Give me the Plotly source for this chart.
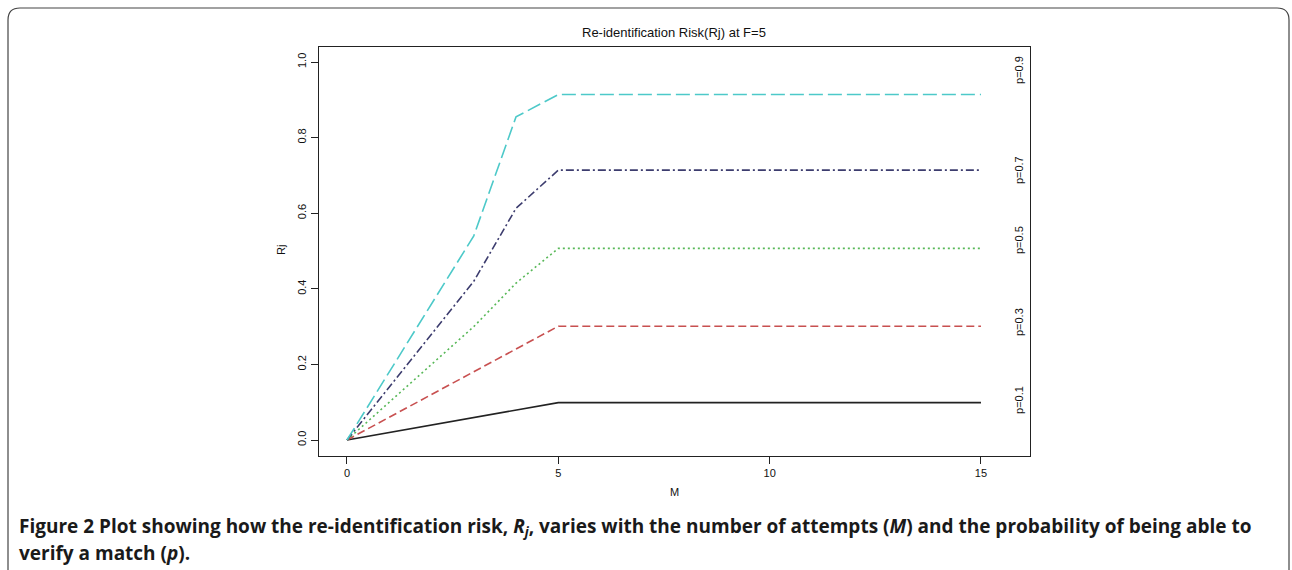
import plotly.graph_objects as go

# Data
M_vals = [0, 1, 2, 3, 4, 5, 15]
series_names = ["p=0.1", "p=0.3", "p=0.5", "p=0.7", "p=0.9"]
r_p01 = [0.0, 0.02, 0.04, 0.06, 0.08, 0.099, 0.099]
r_p03 = [0.0, 0.06, 0.12, 0.18, 0.24, 0.301, 0.301]
r_p05 = [0.0, 0.10, 0.20, 0.30, 0.415, 0.507, 0.507]
r_p07 = [0.0, 0.14, 0.28, 0.42, 0.613, 0.714, 0.714]
r_p09 = [0.0, 0.18, 0.36, 0.54, 0.855, 0.914, 0.914]
label_y = [0.106, 0.312, 0.529, 0.714, 0.979]
x_ticks = [0, 5, 10, 15]
y_ticks = [0.0, 0.2, 0.4, 0.6, 0.8, 1.0]

series_vals = [r_p01, r_p03, r_p05, r_p07, r_p09]
colors = ["#222222", "#c85050", "#58b858", "#3c3c6e", "#4dc9c9"]
dashes = ["solid", "8px,4px", "2px,3px", "8px,3px,2px,3px", "14px,5px"]

FONT = "Liberation Sans Narrow, Liberation Sans, Arial, sans-serif"

# plot-area geometry (pixels)
W, H = 1292, 570
L, R, T, B = 319, 1030, 47, 456
pw, ph = R - L, B - T

def px2paper(x, y):
    return (x - L) / pw, (B - y) / ph

fig = go.Figure()
for name, vals, c, d in zip(series_names, series_vals, colors, dashes):
    fig.add_trace(go.Scatter(
        x=M_vals, y=vals, mode="lines", name=name,
        line=dict(color=c, width=1.6, dash=d), showlegend=False))

# right-side labels
for name, ly in zip(series_names, label_y):
    fig.add_annotation(x=(1019 - L) / pw, xref="paper", y=ly, yref="y",
                       text=name, showarrow=False, textangle=-90,
                       xanchor="center", yanchor="middle",
                       font=dict(family=FONT, size=11, color="#111111"))

# figure border with rounded top corners
r = 12
def P(x, y):
    a, b = px2paper(x, y)
    return f"{a:.5f},{b:.5f}"
path = (f"M {P(8, 575)} L {P(8, 8 + r)} Q {P(8, 8)} {P(8 + r, 8)} "
        f"L {P(1289 - r, 8)} Q {P(1289, 8)} {P(1289, 8 + r)} L {P(1289, 575)}")
fig.add_shape(type="path", path=path, xref="paper", yref="paper",
              line=dict(color="#444444", width=1.2), layer="above")

# caption
cap1 = ("<b>Figure 2</b> <b>Plot showing how the re-identification risk, "
        "<i>R<sub>j</sub></i>, varies with the number of attempts (<i>M</i>) "
        "and the probability of being able to</b>")
cap2 = "<b>verify a match (<i>p</i>).</b>"
for txt, yy in [(cap1, 527), (cap2, 553)]:
    ax, ay = px2paper(17, yy)
    fig.add_annotation(x=ax, y=ay, xref="paper", yref="paper", text=txt,
                       showarrow=False, xanchor="left", yanchor="middle",
                       font=dict(family="Open Sans, sans-serif", size=19,
                                 color="#1a1a1a"))

# axis titles
ax_, ay_ = px2paper(674, 492)
fig.add_annotation(x=ax_, y=ay_, xref="paper", yref="paper", text="M",
                   showarrow=False, xanchor="center", yanchor="middle",
                   font=dict(family=FONT, size=11, color="#111"))
ax_, ay_ = px2paper(281, 250)
fig.add_annotation(x=ax_, y=ay_, xref="paper", yref="paper", text="Rj",
                   showarrow=False, textangle=-90, xanchor="center",
                   yanchor="middle",
                   font=dict(family=FONT, size=11, color="#111"))
# title
ax_, ay_ = px2paper(674, 32)
fig.add_annotation(x=ax_, y=ay_, xref="paper", yref="paper",
                   text="Re-identification Risk(Rj) at F=5", showarrow=False,
                   xanchor="center", yanchor="middle",
                   font=dict(family=FONT, size=13, color="#111"))

fig.update_layout(
    width=W, height=H,
    margin=dict(l=L, r=W - R, t=T, b=H - B, pad=0),
    paper_bgcolor="white", plot_bgcolor="white",
    xaxis=dict(range=[-0.662, 16.16], tickvals=x_ticks,
               ticktext=[str(v) for v in x_ticks],
               ticks="outside", ticklen=7, tickcolor="#222", tickwidth=1,
               showline=True, linecolor="#222", linewidth=1.4, mirror=True,
               showgrid=False, zeroline=False,
               tickfont=dict(family=FONT, size=11, color="#111")),
    yaxis=dict(range=[-0.0423, 1.0397], tickvals=y_ticks,
               ticktext=[f"{v:.1f}" for v in y_ticks],
               ticks="outside", ticklen=7, tickcolor="#222", tickwidth=1,
               tickangle=-90,
               showline=True, linecolor="#222", linewidth=1.4, mirror=True,
               showgrid=False, zeroline=False,
               tickfont=dict(family=FONT, size=11, color="#111")),
)

fig.write_html("out.html", config={"displayModeBar": False},
               post_script="document.body.style.margin='0px';document.body.style.overflow='hidden';")
